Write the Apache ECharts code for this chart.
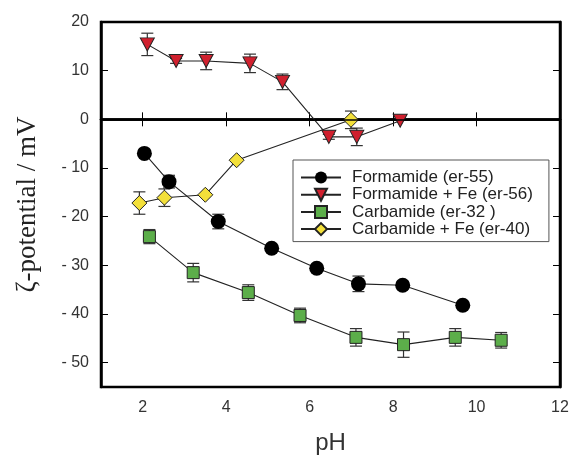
<!DOCTYPE html>
<html>
<head>
<meta charset="utf-8">
<script src="https://cdn.jsdelivr.net/npm/echarts@6/dist/echarts.min.js"></script>
<style>html,body{margin:0;padding:0;background:#fff;}#c{width:573px;height:457px;}</style>
</head>
<body>
<div id="c"></div>
<script>
// Series names
const seriesNames = ['Formamide (er-55)', 'Formamide + Fe (er-56)', 'Carbamide (er-32 )', 'Carbamide + Fe (er-40)'];

// Formamide (er-55)
const formX   = [2.04, 2.63, 3.81, 5.09, 6.17, 7.17, 8.23, 9.67];
const formY   = [-7.0, -12.8, -21.0, -26.5, -30.6, -33.8, -34.1, -38.2];
const formErr = [0, 1.3, 1.5, 0, 0, 1.6, 0.8, 0];

// Formamide + Fe (er-56)
const formFeX   = [2.11, 2.80, 3.52, 4.57, 5.35, 6.46, 7.13, 8.17];
const formFeY   = [15.4, 12.0, 12.0, 11.5, 7.7, -3.6, -3.6, -0.3];
const formFeErr = [2.3, 0.5, 1.8, 1.9, 1.6, 0.5, 1.8, 0];

// Carbamide (er-32 )
const carbX   = [2.16, 3.21, 4.53, 5.77, 7.11, 8.25, 9.49, 10.59];
const carbY   = [-24.1, -31.5, -35.6, -40.3, -44.8, -46.3, -44.8, -45.4];
const carbErr = [1.45, 1.9, 1.6, 1.5, 1.8, 2.6, 1.8, 1.6];

// Carbamide + Fe (er-40)
const carbFeX   = [1.92, 2.52, 3.50, 4.25, 6.99];
const carbFeY   = [-17.2, -16.1, -15.5, -8.4, -0.1];
const carbFeErr = [2.3, 1.8, 0, 0, 1.8];

// Axis ticks
const xTicks = [2, 4, 6, 8, 10, 12];
const yTicks = [-50, -40, -30, -20, -10, 0, 10, 20];

const colors = ['#000000', '#d0202e', '#5cae4a', '#f3e03a'];
const symbols = ['circle', 'path://M0,0 L10,0 L5,9 Z', 'rect', 'diamond'];
const sizes = [15, [14, 13], 12, [15, 15]];

function pts(xs, ys) { return xs.map((x, i) => [x, ys[i]]); }
function errs(xs, ys, es) { return xs.map((x, i) => [x, ys[i], es[i]]); }

const sets = [
  [formX, formY, formErr],
  [formFeX, formFeY, formFeErr],
  [carbX, carbY, carbErr],
  [carbFeX, carbFeY, carbFeErr]
];

function renderErr(params, api) {
  const x = api.value(0), y = api.value(1), e = api.value(2);
  if (!e) return null;
  const t = api.coord([x, y + e]);
  const b = api.coord([x, y - e]);
  const w = 6;
  const st = { stroke: '#333', lineWidth: 1.2 };
  return {
    type: 'group',
    children: [
      { type: 'line', shape: { x1: t[0], y1: t[1], x2: b[0], y2: b[1] }, style: st },
      { type: 'line', shape: { x1: t[0] - w, y1: t[1], x2: t[0] + w, y2: t[1] }, style: st },
      { type: 'line', shape: { x1: b[0] - w, y1: b[1], x2: b[0] + w, y2: b[1] }, style: st }
    ]
  };
}

const series = [];
sets.forEach((s, i) => {
  series.push({
    type: 'custom',
    name: seriesNames[i] + '_err',
    renderItem: renderErr,
    data: errs(s[0], s[1], s[2]),
    encode: { x: 0, y: 1 },
    z: 3,
    silent: true
  });
});
sets.forEach((s, i) => {
  const ser = {
    type: 'line',
    name: seriesNames[i],
    data: pts(s[0], s[1]),
    symbol: symbols[i],
    symbolSize: sizes[i],
    showSymbol: true,
    lineStyle: { color: '#222', width: 1.1 },
    itemStyle: { color: colors[i], borderColor: '#222', borderWidth: i === 0 ? 0 : 1 },
    z: 4,
    animation: false
  };
  if (i === 0) {
    ser.markLine = {
      silent: true,
      symbol: 'none',
      label: { show: false },
      lineStyle: { color: '#000', width: 1.5, type: 'solid' },
      data: [{ yAxis: 0 }],
      animation: false
    };
  }
  series.push(ser);
});

const chart = echarts.init(document.getElementById('c'), null, { renderer: 'canvas' });
const tickStyle = { inside: true, length: 7, lineStyle: { color: '#000', width: 1 } };
chart.setOption({
  animation: false,
  backgroundColor: '#fff',
  grid: { left: 101, right: 13, top: 22, bottom: 70, outerBoundsMode: 'none', containLabel: false, show: true, borderColor: '#000', borderWidth: 2.5, backgroundColor: 'transparent' },
  legend: {
    data: seriesNames,
    orient: 'vertical',
    left: 293,
    top: 160,
    padding: [9, 16, 4, 7],
    itemGap: 0.2,
    itemWidth: 40,
    itemHeight: 15,
    borderColor: '#555',
    borderWidth: 1,
    borderRadius: 0,
    backgroundColor: '#fff',
    textStyle: { fontFamily: 'Liberation Sans', fontSize: 17, lineHeight: 15, color: '#222', padding: [0, 0, 0, 6] }
  },
  xAxis: [
    {
      type: 'value', min: 1, max: 12, position: 'bottom',
      name: 'pH', nameLocation: 'middle', nameGap: 44,
      nameTextStyle: { fontFamily: 'Liberation Sans', fontSize: 24, color: '#333' },
      axisLine: { show: true, lineStyle: { color: '#000', width: 2.5 } },
      axisTick: Object.assign({ customValues: xTicks.slice(0, 5) }, tickStyle),
      axisLabel: { customValues: xTicks, margin: 13, fontFamily: 'Liberation Sans', fontSize: 16, color: '#333' },
      splitLine: { show: false }
    },
    {
      type: 'value', min: 1, max: 12, position: 'top',
      axisLine: { show: true, lineStyle: { color: '#000', width: 2.5 } },
      axisTick: Object.assign({ customValues: xTicks.slice(0, 5) }, tickStyle),
      axisLabel: { show: false },
      splitLine: { show: false }
    }
  ],
  yAxis: [
    {
      type: 'value', min: -55, max: 20, position: 'left',
      name: 'ζ-potential / mV', nameLocation: 'middle', nameGap: 60, nameRotate: 90,
      nameTextStyle: { fontFamily: 'Liberation Serif', fontSize: 27, color: '#222' },
      axisLine: { show: true, lineStyle: { color: '#000', width: 2.5 } },
      axisTick: Object.assign({ customValues: yTicks.slice(0, 7) }, tickStyle),
      axisLabel: {
        customValues: yTicks, margin: 12, fontFamily: 'Liberation Sans', fontSize: 16, color: '#333',
        formatter: v => (v < 0 ? '- ' + Math.abs(v) : String(v))
      },
      splitLine: { show: false }
    },
    {
      type: 'value', min: -55, max: 20, position: 'right',
      axisLine: { show: true, lineStyle: { color: '#000', width: 2.5 } },
      axisTick: Object.assign({ customValues: yTicks.slice(0, 7) }, tickStyle),
      axisLabel: { show: false },
      splitLine: { show: false }
    }
  ],
  series: series
});
</script>
</body>
</html>
